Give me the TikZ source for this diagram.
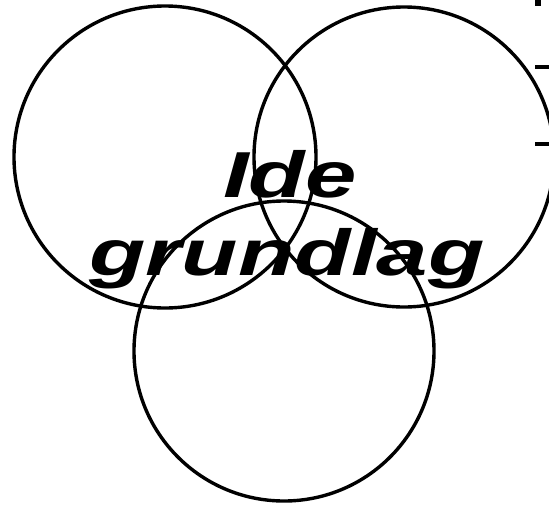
\documentclass[tikz,border=0pt]{standalone}
\usepackage{fontspec}
\setmainfont{Liberation Sans}
\usepackage{xcolor}
\definecolor{idesort}{RGB}{0, 0, 0}

\begin{document}
\begin{tikzpicture}[x=1pt, y=-1pt]

% === Parametre ===
\def\R{150}        % Radius af cirklerne
\def\strk{1.42}    % Vandret strækning af teksten

\tikzset{
    cirkel/.style={line width=3.4pt, idesort},
    overskrift/.style={anchor=base, inner sep=0pt, idesort,
        font=\fontsize{65pt}{76pt}\selectfont\bfseries\itshape},
    streg/.style={fill=idesort}
}

\useasboundingbox (0,0) rectangle (549,507);

% === Cirkler ===
\coordinate (venstre) at (165,157);
\coordinate (hoejre) at (404,157);
\coordinate (bund) at (284,351);
\draw[cirkel] (venstre) circle (\R+1);
\draw[cirkel] (hoejre) circle (\R);
\draw[cirkel] (bund) circle (\R);

% === Tekst ===
\node[overskrift] (ide) at (290,197) {\scalebox{\strk}[1]{Ide}};
\node[overskrift] (grundlag) at (287,275) {\scalebox{\strk}[1]{grundlag}};

% === Streger oppe til hoejre ===
\fill[streg] (535,0) rectangle (541,6);
\fill[streg] (535,65) rectangle (549,69);
\fill[streg] (535,142) rectangle (549,146);

\end{tikzpicture}
\end{document}
